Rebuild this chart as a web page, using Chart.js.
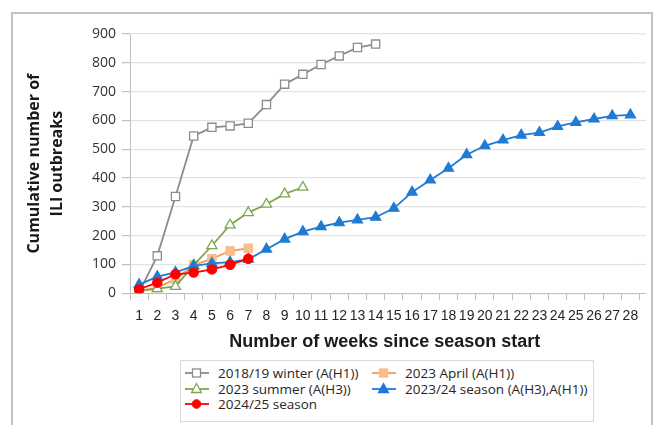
<!DOCTYPE html>
<html>
<head>
<meta charset="utf-8">
<script src="https://cdn.jsdelivr.net/npm/chart.js@4.4.1/dist/chart.umd.min.js"></script>
<style>
  html, body { margin: 0; padding: 0; background: #fff; }
  #wrap { position: relative; width: 656px; height: 425px; overflow: hidden; }
  #frame { position: absolute; left: 11px; top: 12px; width: 642px; height: 430px;
           border: 2px solid #c3c3c3; border-bottom: none; box-sizing: border-box; }
  canvas { position: absolute; left: 0; top: 0; }
  #legend { position: absolute; left: 180px; top: 360px; width: 414px; height: 62px;
            border: 1.5px solid #d9d9d9; box-sizing: border-box; background: #fff;
            font-family: "Open Sans", sans-serif; font-size: 13.5px; color: #262626; }
  .item { position: absolute; height: 16px; display: flex; align-items: center; white-space: nowrap; }
  .item svg { margin-right: 9px; }
</style>
</head>
<body>
<div id="wrap">
  <div id="frame"></div>
  <canvas id="c" width="656" height="425"></canvas>
  <div id="legend"></div>
</div>
<script>
// Cumulative ILI outbreaks by week since the start of each season
const weeks = Array.from({ length: 28 }, (_, i) => String(i + 1));

const winter1819 = [3, 130, 336, 546, 576, 581, 590, 655, 726, 760, 794, 824, 853, 865];
const april2023 = [8, 20, 49, 98, 120, 147, 156];
const summer2023 = [8, 16, 24, 98, 165, 237, 280, 309, 345, 368];
const season2324 = [30, 58, 73, 95, 104, 108, 118, 153, 188, 214, 231, 245, 255, 264,
                    295, 351, 393, 434, 481, 512, 532, 549, 558, 579, 593, 605, 616, 619];
const season2425 = [14, 37, 66, 72, 83, 99, 120];

const yTicks = [0, 100, 200, 300, 400, 500, 600, 700, 800, 900];

const series = [
  { label: '2018/19 winter (A(H1))', data: winter1819, line: '#8c8c8c', fill: '#ffffff', edge: '#8c8c8c', style: 'rect', radius: 5.8, order: 5 },
  { label: '2023 April (A(H1))', data: april2023, line: '#f39a55', fill: '#f9bd8e', edge: '#f9bd8e', style: 'rect', radius: 5.8, order: 4 },
  { label: '2023 summer (A(H3))', data: summer2023, line: '#7ea650', fill: '#ffffff', edge: '#7ea650', style: 'triangle', radius: 5.8, order: 3 },
  { label: '2023/24 season (A(H3),A(H1))', data: season2324, line: '#1f7bd3', fill: '#1f7bd3', edge: '#1f7bd3', style: 'triangle', radius: 5.8, order: 2 },
  { label: '2024/25 season', data: season2425, line: '#ff0000', fill: '#ff0000', edge: '#ff0000', style: 'circle', radius: 4.6, order: 1 }
];

const datasets = series.map(s => ({
  label: s.label,
  data: s.data,
  borderColor: s.line,
  borderWidth: 1.8,
  pointStyle: s.style,
  pointRadius: s.radius,
  pointBackgroundColor: s.fill,
  pointBorderColor: s.edge,
  pointBorderWidth: 1.3,
  tension: 0,
  fill: false,
  order: s.order
}));

// Horizontal gridlines and the category axis run a few pixels past the last tick
const gridRunout = {
  id: 'gridRunout',
  beforeDatasetsDraw(chart) {
    const { ctx, chartArea, scales } = chart;
    const extra = 6.5;
    ctx.save();
    ctx.lineWidth = 1.2;
    ctx.strokeStyle = '#e3e3e3';
    scales.y.ticks.forEach(t => {
      if (t.value === 0) return;
      const y = scales.y.getPixelForValue(t.value);
      ctx.beginPath();
      ctx.moveTo(chartArea.right, y);
      ctx.lineTo(chartArea.right + extra, y);
      ctx.stroke();
    });
    ctx.lineWidth = 1;
    ctx.strokeStyle = '#bfbfbf';
    const y0 = Math.round(scales.y.getPixelForValue(0)) + 0.5;
    ctx.beginPath();
    ctx.moveTo(chartArea.right, y0);
    ctx.lineTo(chartArea.right + extra, y0);
    ctx.stroke();
    ctx.restore();
  }
};

new Chart(document.getElementById('c'), {
  type: 'line',
  data: { labels: weeks, datasets },
  plugins: [gridRunout],
  options: {
    responsive: false,
    devicePixelRatio: 1,
    animation: false,
    events: [],
    layout: { padding: { left: 0, top: 34, right: 16.5, bottom: 70 } },
    plugins: { legend: { display: false }, tooltip: { enabled: false } },
    scales: {
      x: {
        offset: true,
        grid: { offset: true, drawOnChartArea: false, color: '#bfbfbf', tickColor: '#bfbfbf', tickLength: 7 },
        border: { color: '#bfbfbf', width: 1 },
        ticks: { autoSkip: false, maxRotation: 0, padding: 7, color: '#262626',
                 font: { family: 'Liberation Sans', size: 14 } },
        title: { display: true, text: 'Number of weeks since season start', color: '#1a1a1a',
                 font: { family: 'Liberation Sans', size: 18, weight: 'bold' }, padding: { top: 0, bottom: 2 } },
        afterFit: s => { s.height = 61.7; }
      },
      y: {
        min: 0, max: 900,
        afterBuildTicks: s => { s.ticks = yTicks.map(v => ({ value: v })); },
        grid: { color: '#e3e3e3', lineWidth: 1.2, tickColor: '#bfbfbf', tickLength: 8 },
        border: { color: '#bfbfbf', width: 1 },
        ticks: { padding: 6, color: '#333333', font: { family: 'Open Sans', size: 14 } },
        title: { display: true, text: ['Cumulative number of', 'ILI outbreaks'], color: '#1a1a1a',
                 font: { family: 'Open Sans', size: 16, weight: 'bold', lineHeight: 1.45 },
                 padding: { top: 23, bottom: 0 } },
        afterFit: s => { s.width = 130; }
      }
    }
  }
});

// Legend: two columns, sample line with marker followed by the series name
const slots = [[0, 0], [1, 0], [0, 1], [1, 1], [0, 2]];
const colX = [4, 191];
const rowY = [4, 20, 35];
const legend = document.getElementById('legend');
series.forEach((s, i) => {
  const [c, r] = slots[i];
  let mark;
  if (s.style === 'rect') {
    mark = `<rect x="7.5" y="4" width="8" height="8" fill="${s.fill}" stroke="${s.edge}" stroke-width="1.3"/>`;
  } else if (s.style === 'triangle') {
    mark = `<polygon points="11.5,2.5 16.5,11.5 6.5,11.5" fill="${s.fill}" stroke="${s.edge}" stroke-width="1.3"/>`;
  } else {
    mark = `<circle cx="11.5" cy="8" r="4.3" fill="${s.fill}" stroke="${s.edge}" stroke-width="1"/>`;
  }
  const el = document.createElement('div');
  el.className = 'item';
  el.style.left = colX[c] + 'px';
  el.style.top = rowY[r] + 'px';
  el.innerHTML = `<svg width="24" height="16" viewBox="0 0 24 16"><line x1="0" y1="8" x2="24" y2="8" stroke="${s.line}" stroke-width="1.8"/>${mark}</svg><span>${s.label}</span>`;
  legend.appendChild(el);
});
</script>
</body>
</html>
